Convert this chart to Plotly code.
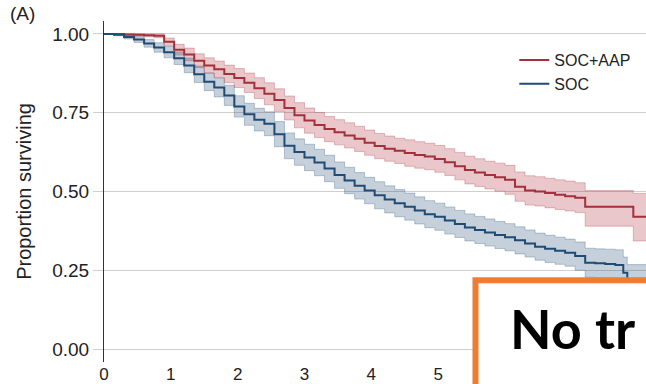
import plotly.graph_objects as go

# ---- data ----
soc_t = [0, 0.15, 0.3, 0.45, 0.6, 0.75, 0.9, 1.05, 1.2, 1.35,
         1.5, 1.65, 1.8, 1.95, 2.1, 2.25, 2.4, 2.55, 2.7, 2.85,
         3.0, 3.15, 3.3, 3.45, 3.6, 3.75, 3.9, 4.05, 4.2, 4.35,
         4.5, 4.65, 4.8, 4.95, 5.1, 5.25, 5.4, 5.55, 5.7, 5.85,
         6.0, 6.15, 6.3, 6.45, 6.6, 6.75, 6.9, 7.05, 7.2, 7.35,
         7.5, 7.65, 7.77, 7.83, 8.11]
soc_s = [1.000, 0.997, 0.990, 0.982, 0.970, 0.957, 0.942, 0.923, 0.900, 0.872,
         0.848, 0.830, 0.805, 0.770, 0.745, 0.728, 0.715, 0.682, 0.645, 0.625,
         0.608, 0.592, 0.573, 0.552, 0.535, 0.518, 0.503, 0.488, 0.475, 0.463,
         0.452, 0.440, 0.428, 0.420, 0.408, 0.397, 0.386, 0.378, 0.370, 0.362,
         0.355, 0.345, 0.335, 0.325, 0.318, 0.312, 0.306, 0.295, 0.274, 0.272,
         0.270, 0.267, 0.242, 0.220, 0.220]
soc_upper = [1.000, 1.000, 0.996, 0.991, 0.982, 0.972, 0.960, 0.943, 0.923, 0.898,
             0.876, 0.860, 0.837, 0.804, 0.780, 0.764, 0.753, 0.722, 0.686, 0.667,
             0.650, 0.634, 0.615, 0.594, 0.577, 0.560, 0.545, 0.531, 0.518, 0.506,
             0.495, 0.483, 0.471, 0.463, 0.451, 0.440, 0.429, 0.421, 0.413, 0.405,
             0.398, 0.388, 0.378, 0.368, 0.361, 0.355, 0.349, 0.340, 0.320, 0.318,
             0.317, 0.315, 0.292, 0.268, 0.268]
soc_lower = [1.000, 0.994, 0.984, 0.973, 0.958, 0.942, 0.924, 0.903, 0.877, 0.846,
             0.820, 0.800, 0.773, 0.736, 0.710, 0.692, 0.677, 0.642, 0.604, 0.583,
             0.566, 0.550, 0.531, 0.510, 0.493, 0.476, 0.461, 0.445, 0.432, 0.420,
             0.409, 0.397, 0.385, 0.377, 0.365, 0.354, 0.343, 0.335, 0.327, 0.319,
             0.312, 0.302, 0.292, 0.282, 0.275, 0.269, 0.263, 0.250, 0.228, 0.224,
             0.222, 0.219, 0.192, 0.170, 0.170]

aap_t = [0, 0.15, 0.3, 0.45, 0.6, 0.75, 0.9, 1.05, 1.2, 1.35,
         1.5, 1.65, 1.8, 1.95, 2.1, 2.25, 2.4, 2.55, 2.7, 2.85,
         3.0, 3.15, 3.3, 3.45, 3.6, 3.75, 3.9, 4.05, 4.2, 4.35,
         4.5, 4.65, 4.8, 4.95, 5.1, 5.25, 5.4, 5.55, 5.7, 5.85,
         6.0, 6.15, 6.3, 6.45, 6.6, 6.75, 6.9, 7.05, 7.2, 7.92,
         8.11]
aap_s = [1.000, 1.000, 0.998, 0.997, 0.996, 0.994, 0.975, 0.950, 0.935, 0.915,
         0.900, 0.888, 0.873, 0.860, 0.845, 0.828, 0.810, 0.790, 0.765, 0.742,
         0.725, 0.711, 0.698, 0.688, 0.678, 0.667, 0.655, 0.644, 0.636, 0.629,
         0.622, 0.616, 0.611, 0.603, 0.593, 0.580, 0.568, 0.560, 0.552, 0.545,
         0.537, 0.515, 0.503, 0.500, 0.495, 0.490, 0.485, 0.480, 0.452, 0.420,
         0.420]
aap_upper = [1.000, 1.000, 1.000, 1.000, 1.000, 1.000, 0.987, 0.967, 0.955, 0.937,
             0.924, 0.914, 0.901, 0.890, 0.876, 0.861, 0.845, 0.826, 0.803, 0.782,
             0.765, 0.751, 0.738, 0.728, 0.718, 0.707, 0.695, 0.684, 0.676, 0.669,
             0.664, 0.658, 0.653, 0.646, 0.636, 0.624, 0.612, 0.604, 0.596, 0.590,
             0.583, 0.562, 0.550, 0.547, 0.542, 0.537, 0.533, 0.528, 0.503, 0.494,
             0.494]
aap_lower = [1.000, 0.999, 0.995, 0.993, 0.991, 0.988, 0.963, 0.933, 0.915, 0.893,
             0.876, 0.862, 0.845, 0.830, 0.814, 0.795, 0.775, 0.754, 0.727, 0.702,
             0.685, 0.671, 0.658, 0.648, 0.638, 0.627, 0.615, 0.604, 0.596, 0.589,
             0.580, 0.574, 0.569, 0.561, 0.551, 0.537, 0.524, 0.516, 0.508, 0.501,
             0.491, 0.469, 0.457, 0.454, 0.448, 0.443, 0.438, 0.433, 0.390, 0.343,
             0.343]

y_ticks = [0, 0.25, 0.5, 0.75, 1.0]
y_tick_labels = ["0.00", "0.25", "0.50", "0.75", "1.00"]
x_ticks = [0, 1, 2, 3, 4, 5, 6, 7, 8]
x_tick_labels = ["0", "1", "2", "3", "4", "5", "6", "7", "8"]

RED = "#a3313b"
BLUE = "#1f4b75"
RED_FILL = "rgba(170,40,50,0.26)"
RED_EDGE = "rgba(170,40,50,0.28)"
BLUE_FILL = "rgba(30,75,115,0.26)"
BLUE_EDGE = "rgba(30,75,115,0.28)"

fig = go.Figure()

def add_band(t, lo, hi, fill, edge):
    fig.add_trace(go.Scatter(x=t, y=lo, mode="lines", line=dict(shape="hv", color=edge, width=1),
                             showlegend=False, hoverinfo="skip"))
    fig.add_trace(go.Scatter(x=t, y=hi, mode="lines", line=dict(shape="hv", color=edge, width=1),
                             fill="tonexty", fillcolor=fill, showlegend=False, hoverinfo="skip"))

add_band(soc_t, soc_lower, soc_upper, BLUE_FILL, BLUE_EDGE)
add_band(aap_t, aap_lower, aap_upper, RED_FILL, RED_EDGE)

fig.add_trace(go.Scatter(x=aap_t, y=aap_s, mode="lines", name="SOC+AAP",
                         line=dict(shape="hv", color=RED, width=2)))
fig.add_trace(go.Scatter(x=soc_t, y=soc_s, mode="lines", name="SOC",
                         line=dict(shape="hv", color=BLUE, width=2)))

FONT = "Liberation Sans, Arial, sans-serif"

fig.update_layout(
    width=646, height=384,
    margin=dict(l=104, r=0, t=21, b=19),
    paper_bgcolor="white", plot_bgcolor="white",
    font=dict(family=FONT, color="#222222", size=18),
    showlegend=True,
    legend=dict(x=0.757, y=0.935, xanchor="left", yanchor="top", traceorder="normal",
                font=dict(size=16, family=FONT, color="#222222"),
                bgcolor="rgba(0,0,0,0)", itemwidth=30, tracegroupgap=0),
    xaxis=dict(range=[0, 8.11], tickvals=x_ticks, ticktext=x_tick_labels,
               showgrid=False, zeroline=False, showline=False, ticks="",
               tickfont=dict(size=17, family=FONT, color="#222222")),
    yaxis=dict(range=[-0.041, 1.041], tickvals=y_ticks, ticktext=y_tick_labels,
               showgrid=True, gridcolor="#cfcfcf", gridwidth=1, zeroline=False,
               showline=True, linecolor="#333333", linewidth=1,
               ticks="outside", ticklen=10, tickcolor="#cfcfcf", tickwidth=1,
               tickfont=dict(size=19, family=FONT, color="#222222"),
               title=dict(text="Proportion surviving", standoff=15,
                          font=dict(size=20, family=FONT, color="#222222"))),
)

# overlay box from the slide
fig.add_shape(type="rect", xref="paper", yref="paper",
              x0=0.6854, x1=1.2, y0=-0.3, y1=0.2398,
              line=dict(color="#ED7D31", width=6), fillcolor="white", layer="above")

fig.add_annotation(text="<b>No tr</b>", xref="paper", yref="paper",
                   x=0.746, y=0.097, xanchor="left", yanchor="middle", showarrow=False,
                   font=dict(family="Lato, Liberation Sans, sans-serif", size=54, color="#000000"))

fig.add_annotation(text="(A)", xref="paper", yref="paper",
                   x=-0.177, y=0.985, xanchor="left", yanchor="bottom", showarrow=False,
                   font=dict(family=FONT, size=19, color="#222222"))

fig.write_html("out.html")
